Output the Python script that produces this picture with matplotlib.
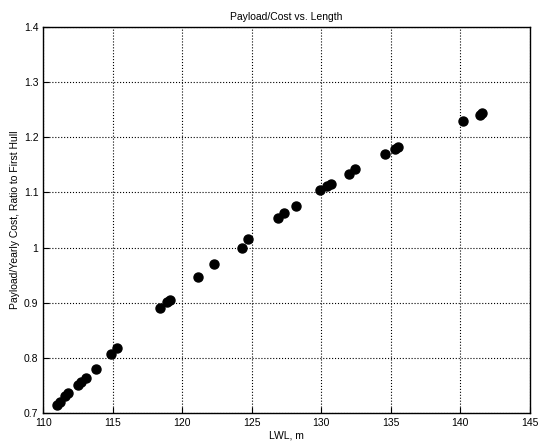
import matplotlib
matplotlib.use('Agg')
import matplotlib.pyplot as plt

plt.rcParams['font.family'] = ['Liberation Sans', 'DejaVu Sans']

# hull length (LWL, m) and payload / yearly cost ratio to first hull
lwl = [111.0, 111.2, 111.6, 111.8, 112.5, 112.7, 113.1, 113.8,
       114.9, 115.3, 118.4, 118.9, 119.1, 121.1, 122.3, 124.3,
       124.7, 126.9, 127.3, 128.2, 129.9, 130.4, 130.7, 132.0,
       132.4, 134.6, 135.3, 135.5, 140.2, 141.4, 141.6]
ratio = [0.714, 0.720, 0.730, 0.736, 0.751, 0.757, 0.764, 0.780,
         0.807, 0.817, 0.890, 0.902, 0.905, 0.947, 0.970, 0.999,
         1.016, 1.054, 1.062, 1.076, 1.105, 1.111, 1.115, 1.134,
         1.142, 1.170, 1.179, 1.182, 1.230, 1.241, 1.244]

xticks = [110, 115, 120, 125, 130, 135, 140, 145]
yticks = [0.7, 0.8, 0.9, 1.0, 1.1, 1.2, 1.3, 1.4]
yticklabels = ['0.7', '0.8', '0.9', '1', '1.1', '1.2', '1.3', '1.4']


def main():
    fig = plt.figure(figsize=(5.4, 4.45), dpi=100)
    ax = fig.add_axes([0.08, 0.072, 0.901, 0.867])

    ax.plot(lwl, ratio, 'o', color='black', markersize=6.5)

    ax.set_xlim(110, 145)
    ax.set_ylim(0.7, 1.4)
    ax.set_xticks(xticks)
    ax.set_yticks(yticks)
    ax.set_yticklabels(yticklabels)
    ax.tick_params(direction='in', length=4, width=0.8, labelsize=7.5, colors='black')
    ax.grid(True, linestyle=':', color='black', linewidth=0.8)
    for s in ax.spines.values():
        s.set_linewidth(1.0)

    ax.set_title('Payload/Cost vs. Length', fontsize=7.5, pad=5)
    ax.set_xlabel('LWL, m', fontsize=7.5, labelpad=2)
    ax.set_ylabel('Payload/Yearly Cost, Ratio to First Hull', fontsize=7.5, labelpad=3)

    fig.savefig('out.png', dpi=100)


if __name__ == "__main__":
    main()
